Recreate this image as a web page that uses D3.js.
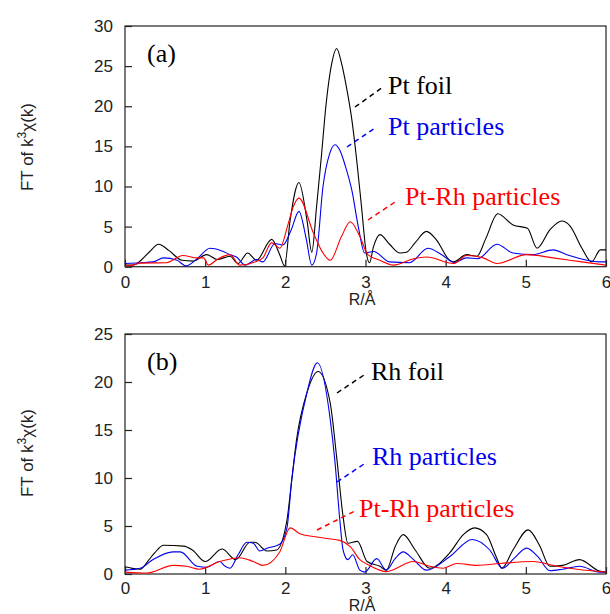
<!DOCTYPE html>
<head>
  <meta charset="utf-8">
  <style>
    body { margin: 0; background: #fff; }
    svg text.tick-label, svg .tick text {
      font: 17px "Liberation Sans", Arial, sans-serif;
      fill: #222;
    }
    svg .frame {
      fill: none;
      stroke: #222;
      stroke-width: 1.2px;
    }
    svg .curve {
      fill: none;
      stroke-width: 1.1px;
      stroke-linejoin: round;
    }
    svg .leader {
      fill: none;
      stroke-width: 1.5px;
      stroke-dasharray: 5,4;
    }
    svg .legend {
      font: 26px "Liberation Serif", "Times New Roman", serif;
    }
  </style>
</head>

<body>
<script src="https://cdn.jsdelivr.net/npm/d3@7"></script>

<script>
  // ---- data (R in Angstrom, FT magnitude) ----
  var xTicks = [0, 1, 2, 3, 4, 5, 6];
  var yTicksA = [0, 5, 10, 15, 20, 25, 30];
  var yTicksB = [0, 5, 10, 15, 20, 25];

  var namesA = ["Pt foil", "Pt particles", "Pt-Rh particles"];
  var namesB = ["Rh foil", "Rh particles", "Pt-Rh particles"];
  var colors = ["#000000", "#0000ee", "#ff0000"];

  var ptFoil = [[0,0.2],[0.1,0.2],[0.2,0.8],[0.3,1.8],[0.42,2.8],[0.55,2.0],[0.71,0.8],[0.85,0.7],
    [1.02,1.5],[1.15,0.9],[1.31,1.3],[1.41,0.4],[1.53,1.7],[1.64,0.8],[1.83,3.4],[1.93,1.5],[1.99,0.1],
    [2.06,5.8],[2.17,10.5],[2.27,5.8],[2.33,1.8],[2.39,7.5],[2.45,13.8],[2.51,20.4],[2.58,25.4],
    [2.64,27.2],[2.70,25.4],[2.76,22.5],[2.83,18.3],[2.89,13.3],[2.95,7.5],[3.01,1.7],[3.05,0.5],
    [3.1,2.5],[3.18,4.0],[3.3,2.8],[3.43,1.7],[3.51,1.8],[3.62,3.0],[3.76,4.4],[3.88,3.4],[4.05,0.8],
    [4.1,0.6],[4.26,1.5],[4.39,1.3],[4.5,3.5],[4.65,6.6],[4.84,5.2],[5.02,4.8],[5.14,2.3],[5.3,4.6],
    [5.45,5.7],[5.55,5.1],[5.7,2.3],[5.82,0.6],[5.93,2.1],[6,2.1]];

  var ptParticles = [[0,0.4],[0.2,0.5],[0.35,0.6],[0.48,1.1],[0.65,0.8],[0.76,0.1],[0.9,1.0],[1.06,2.3],
    [1.2,2.0],[1.31,1.5],[1.39,1.2],[1.5,0.2],[1.64,0.9],[1.72,0.6],[1.87,2.9],[1.97,2.7],[2.07,4.5],
    [2.17,6.9],[2.26,3.5],[2.33,0.2],[2.39,1.7],[2.47,10],[2.55,14],[2.62,15.2],[2.68,14.5],[2.75,12.5],
    [2.83,9.5],[2.91,5.0],[2.99,1.7],[3.1,1.9],[3.3,0.6],[3.55,0.5],[3.78,2.3],[3.95,1.5],[4.11,0.5],
    [4.26,1.1],[4.4,1.0],[4.64,2.8],[4.84,1.7],[5.09,1.5],[5.34,2.1],[5.51,1.5],[5.92,0.6],[6,0.6]];

  var ptRhA = [[0,0.1],[0.1,0.2],[0.19,0.45],[0.52,0.5],[0.72,1.4],[0.9,1.1],[0.98,1.1],[1.04,0.2],
    [1.15,0.9],[1.31,1.5],[1.43,0.2],[1.62,0.6],[1.72,1.1],[1.83,3.0],[1.93,2.3],[2.04,5.5],[2.1,7.5],
    [2.17,8.55],[2.35,4.2],[2.47,1.7],[2.56,0.8],[2.70,3.75],[2.81,5.6],[2.93,3.75],[3.03,1.5],
    [3.18,0.8],[3.35,0.2],[3.6,1.0],[3.76,1.2],[4.1,0.4],[4.26,1.4],[4.47,1.1],[4.64,0.4],[5.01,1.5],
    [5.34,1.1],[5.7,0.6],[6,0.2]];

  var rhFoil = [[0,0.76],[0.19,0.5],[0.3,1.5],[0.37,2.2],[0.48,3.0],[0.73,2.9],[0.84,2.5],[1.0,1.3],
    [1.21,2.6],[1.38,1.5],[1.56,3.3],[1.62,3.3],[1.77,2.4],[1.89,2.5],[2.02,5.6],[2.08,9.8],[2.14,14],
    [2.27,18.9],[2.41,21.1],[2.56,17.8],[2.64,12.2],[2.72,6.0],[2.78,3.2],[2.9,3.4],[3.02,1.3],
    [3.18,0.8],[3.26,0.4],[3.37,2.85],[3.47,4.1],[3.62,2.5],[3.8,0.6],[4.05,2.2],[4.22,4.1],[4.36,4.8],
    [4.51,4.1],[4.63,1.8],[4.7,0.6],[4.84,2.5],[5.03,4.6],[5.17,3.0],[5.3,0.8],[5.46,0.9],[5.67,1.5],
    [5.92,0.3],[6,0.2]];

  var rhParticles = [[0,0.4],[0.19,0.6],[0.35,1.5],[0.6,2.3],[0.69,2.3],[0.9,0.8],[1.02,0.7],[1.18,1.3],
    [1.25,0.8],[1.31,0.6],[1.41,2.0],[1.52,3.3],[1.6,3.2],[1.68,2.4],[1.78,2.7],[1.93,3.1],[2.02,4.8],
    [2.08,9.8],[2.27,18.9],[2.4,22.0],[2.56,16.1],[2.62,11.6],[2.68,5.6],[2.72,2.5],[2.78,1.5],
    [2.84,2.0],[2.93,0.4],[2.99,0.2],[3.14,1.6],[3.26,0.4],[3.37,1.6],[3.47,2.3],[3.6,1.5],[3.76,0.4],
    [4.05,1.8],[4.33,3.6],[4.55,2.5],[4.71,0.6],[4.85,1.6],[5.01,2.7],[5.15,1.8],[5.3,0.35],[5.46,0.5],
    [5.67,0.8],[5.92,0.2],[6,0.2]];

  var ptRhB = [[0,0.2],[0.27,0.1],[0.6,0.9],[0.77,0.8],[0.93,0.5],[1.18,1.3],[1.43,1.7],[1.6,1.3],
    [1.72,0.9],[1.93,2.3],[2.06,4.8],[2.18,4.2],[2.35,3.9],[2.52,3.7],[2.68,3.5],[2.81,2.85],[2.93,1.5],
    [3.05,0.9],[3.26,0.25],[3.6,1.3],[3.8,0.8],[3.97,0.6],[4.14,1.1],[4.39,0.9],[4.68,1.1],[5.09,1.3],
    [5.39,0.8],[5.64,0.5],[6,0.2]];

  var svg = d3.select("body").append("svg")
      .attr("width", 610)
      .attr("height", 614);

  function drawPanel(p) {
    var x = d3.scaleLinear().domain([0, 6]).range([125, 606]);
    var y = d3.scaleLinear().domain([0, p.ymax]).range([p.bottom, p.top]);
    var g = svg.append("g");

    // frame
    g.append("rect")
        .classed("frame", true)
        .attr("x", x(0)).attr("y", y(p.ymax))
        .attr("width", x(6) - x(0))
        .attr("height", y(0) - y(p.ymax));

    // axes, ticks pointing inwards
    g.append("g")
        .attr("transform", "translate(0," + y(0) + ")")
        .call(d3.axisBottom(x).tickValues(xTicks).tickFormat(d3.format("d"))
          .tickSizeInner(-7).tickSizeOuter(0).tickPadding(p.xPad));
    g.append("g")
        .attr("transform", "translate(" + x(0) + ",0)")
        .call(d3.axisLeft(y).tickValues(p.yTicks).tickFormat(d3.format("d"))
          .tickSizeInner(-7).tickSizeOuter(0).tickPadding(12));
    g.selectAll(".domain").remove();
    g.selectAll(".tick line").style("stroke", "#222").style("stroke-width", "1.2px");

    // axis titles
    g.append("text")
        .attr("class", "tick-label")
        .attr("x", 362).attr("y", p.xTitleY)
        .style("text-anchor", "middle")
        .style("font-size", "16px")
        .text("R/\u00c5");

    var yt = g.append("text")
        .attr("class", "tick-label")
        .attr("transform", "translate(33," + p.yTitleY + ") rotate(-90)")
        .style("text-anchor", "middle");
    yt.append("tspan").text("FT of k");
    yt.append("tspan").attr("dy", -7).style("font-size", "12px").text("3");
    yt.append("tspan").attr("dy", 7).text("\u03c7(k)");

    // panel letter
    g.append("text")
        .attr("class", "legend")
        .attr("x", 147).attr("y", p.letterY)
        .text(p.letter);

    // curves
    var line = d3.line()
        .x(function (d) { return x(d[0]); })
        .y(function (d) { return y(d[1]); })
        .curve(d3.curveMonotoneX);

    p.series.forEach(function (s, i) {
      g.append("path")
          .classed("curve", true)
          .attr("d", line(s))
          .style("stroke", colors[i]);
    });

    // labels with dashed leaders
    p.names.forEach(function (name, i) {
      var L = p.leaders[i];
      g.append("line")
          .classed("leader", true)
          .attr("x1", L[0]).attr("y1", L[1])
          .attr("x2", L[2]).attr("y2", L[3])
          .style("stroke", colors[i]);
      g.append("text")
          .classed("legend", true)
          .attr("x", L[4]).attr("y", L[5])
          .style("fill", colors[i])
          .text(name);
    });
  }

  drawPanel({
    ymax: 30, top: 26, bottom: 266.7, yTicks: yTicksA, xPad: 9,
    xTitleY: 305, yTitleY: 147, letter: "(a)", letterY: 62,
    series: [ptFoil, ptParticles, ptRhA], names: namesA,
    leaders: [[355, 107, 383, 87, 388, 94],
              [347, 147, 375, 128, 388, 135],
              [368, 220, 398, 200, 405, 205]]
  });

  drawPanel({
    ymax: 25, top: 334, bottom: 574, yTicks: yTicksB, xPad: 8,
    xTitleY: 611, yTitleY: 453, letter: "(b)", letterY: 370,
    series: [rhFoil, rhParticles, ptRhB], names: namesB,
    leaders: [[337, 393, 367, 373, 371, 380],
              [337, 482, 367, 462, 372, 465],
              [317, 530, 357, 510, 359, 517]]
  });
</script>
</body>
</html>
